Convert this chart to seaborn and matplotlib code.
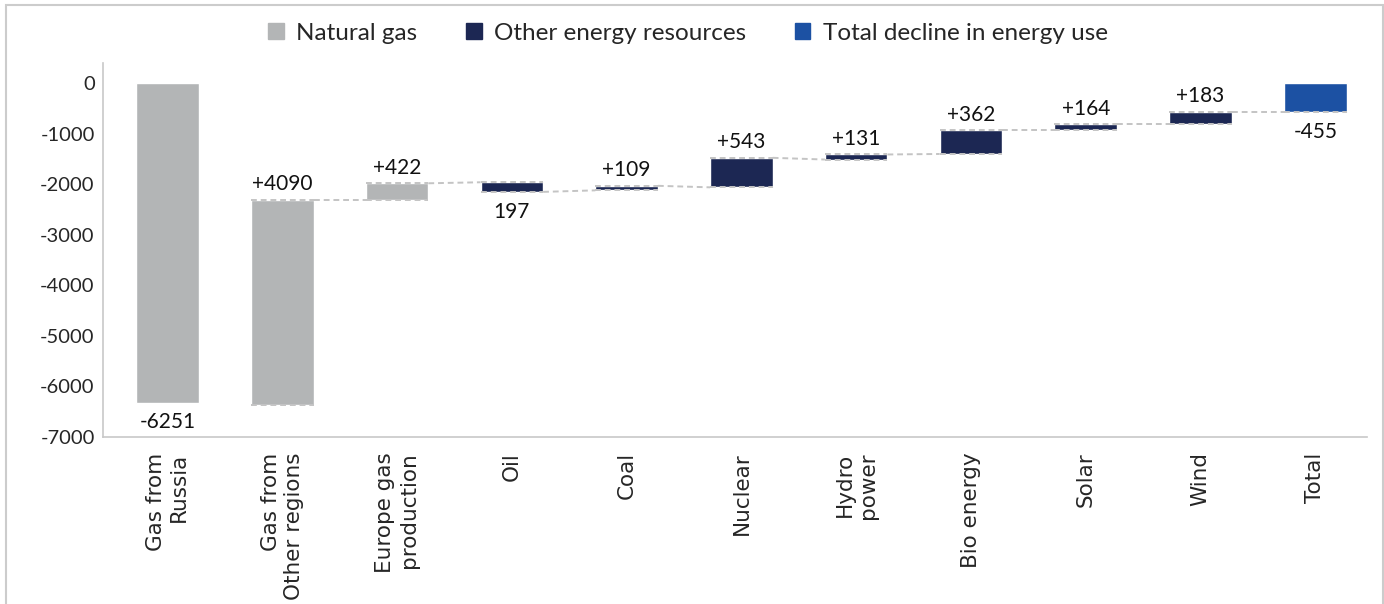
import matplotlib
matplotlib.use("Agg")
import matplotlib.pyplot as plt
from matplotlib.patches import Patch, Rectangle
import seaborn as sns
import pandas as pd

# waterfall steps (bar from start -> end)
categories = ['Gas from\nRussia', 'Gas from\nOther regions', 'Europe gas\nproduction', 'Oil', 'Coal',
              'Nuclear', 'Hydro\npower', 'Bio energy', 'Solar', 'Wind', 'Total']
starts = [0, -6360, -2310, -1960, -2120, -2060, -1510, -1400, -935, -810, -570]
ends = [-6320, -2310, -1980, -2150, -2030, -1476, -1410, -935, -810, -570, 0]
value_labels = ['-6251', '+4090', '+422', '197', '+109', '+543', '+131', '+362', '+164', '+183', '-455']
label_below = [True, False, False, True, False, False, False, False, False, False, True]
groups = ['Natural gas'] * 3 + ['Other energy resources'] * 7 + ['Total decline in energy use']

colors = {'Natural gas': '#B3B5B6', 'Other energy resources': '#1C2753',
          'Total decline in energy use': '#1C51A3'}

df = pd.DataFrame({'category': categories, 'bottom': starts,
                   'height': [e - s for s, e in zip(starts, ends)], 'group': groups})

sns.set_style('white')
plt.rcParams['font.family'] = ['Lato', 'DejaVu Sans']
plt.rcParams['axes.unicode_minus'] = False

fig = plt.figure(figsize=(13.84, 6.04), dpi=100)
ax = fig.add_axes([0.0744, 0.2765, 0.9133, 0.6192])

w = 0.545
for g, col in colors.items():
    sub = df[df['group'] == g]
    sns.barplot(data=sub, x='category', y='height', order=categories, bottom=sub['bottom'].values,
                color=col, saturation=1, width=w, errorbar=None, ax=ax)

# dashed guide lines
dash = dict(color='#C4C4C4', lw=1.4, ls=(0, (3, 2)), zorder=5)
for i in range(1, len(categories)):
    ax.plot([i - w / 2, i + w / 2], [starts[i], starts[i]], **dash)
    if i < len(categories) - 1:
        ax.plot([i - w / 2, i + w / 2], [ends[i], ends[i]], **dash)
        ax.plot([i + w / 2, i + 1 - w / 2], [ends[i], starts[i + 1]], **dash)

# value labels
for i, txt in enumerate(value_labels):
    if label_below[i]:
        y = min(starts[i], ends[i])
        ax.annotate(txt, (i, y), xytext=(0, -7), textcoords='offset points',
                    ha='center', va='top', fontsize=15, color='#111111')
    else:
        y = max(starts[i], ends[i])
        ax.annotate(txt, (i, y), xytext=(0, 4), textcoords='offset points',
                    ha='center', va='bottom', fontsize=15, color='#111111')

ax.set_xlim(-0.562, 10.45)
ax.set_ylim(-7000, 400)
ax.set_yticks(range(-7000, 1, 1000))
ax.set_yticklabels([str(v) for v in range(-7000, 1, 1000)], fontsize=14.5)
ax.set_xlabel('')
ax.set_ylabel('')
ax.tick_params(axis='both', length=0)
ax.tick_params(axis='y', pad=6)
ax.tick_params(axis='x', pad=11)
for lab in ax.get_xticklabels():
    lab.set_rotation(90)
    lab.set_fontfamily('DejaVu Sans')
    lab.set_fontsize(15.5)
    lab.set_multialignment('right')
    lab.set_va('top')
    lab.set_ha('center')
for s in ['top', 'right']:
    ax.spines[s].set_visible(False)
for s in ['left', 'bottom']:
    ax.spines[s].set_color('#C8C8C8')
    ax.spines[s].set_linewidth(1.2)

handles = [Patch(color=c, label=g) for g, c in colors.items()]
fig.legend(handles=handles, loc='center', bbox_to_anchor=(0.497, 0.945), ncol=3, frameon=False,
           fontsize=17.5, handlelength=0.65, handleheight=0.65, handletextpad=0.5, columnspacing=2.0)

fig.patches.append(Rectangle((0.0043, -0.1), 0.9949, 1.091, transform=fig.transFigure,
                             fill=False, edgecolor='#CCCCCC', lw=1.5))

fig.savefig('out.png', dpi=100)
